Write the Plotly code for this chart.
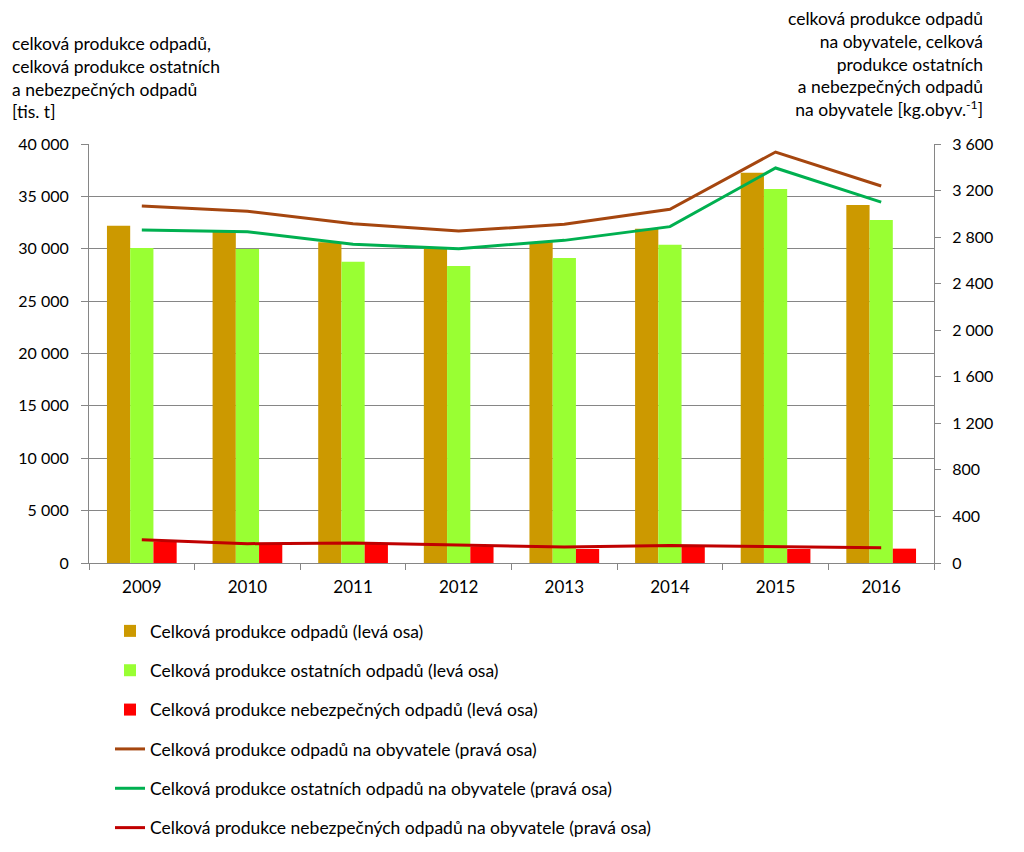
import plotly.graph_objects as go

years = ["2009", "2010", "2011", "2012", "2013", "2014", "2015", "2016"]

# left axis [tis. t]
total_waste = [32200, 31630, 30620, 30040, 30620, 31900, 37260, 34180]
other_waste = [30070, 29980, 28770, 28350, 29120, 30390, 35700, 32750]
hazardous_waste = [2060, 1810, 1830, 1590, 1340, 1590, 1340, 1370]

# right axis [kg/obyv.]
total_pc = [3067, 3022, 2915, 2852, 2910, 3039, 3531, 3239]
other_pc = [2861, 2847, 2738, 2701, 2772, 2890, 3394, 3101]
hazardous_pc = [200, 166, 172, 157, 137, 151, 143, 131]

names = [
    "Celková produkce odpadů (levá osa)",
    "Celková produkce ostatních odpadů (levá osa)",
    "Celková produkce nebezpečných odpadů (levá osa)",
    "Celková produkce odpadů na obyvatele (pravá osa)",
    "Celková produkce ostatních odpadů na obyvatele (pravá osa)",
    "Celková produkce nebezpečných odpadů na obyvatele (pravá osa)",
]

FONT = "Lato, Calibri, sans-serif"
GRID = "#868686"
OFF = 8  # page body margin offset
PLOT_TOP, PLOT_BOTTOM, PLOT_H, PLOT_W = 144, 563, 419, 845

fig = go.Figure()
bar_colors = ["#CC9900", "#99FF33", "#FF0000"]
for i, (vals, col) in enumerate(zip([total_waste, other_waste, hazardous_waste], bar_colors)):
    fig.add_trace(go.Bar(x=years, y=vals, name=names[i], marker=dict(color=col, line=dict(width=0)),
                         legendgroup=f"g{i}", yaxis="y"))

line_colors = ["#A5460F", "#00B050", "#C00000"]
for j, (vals, col) in enumerate(zip([total_pc, other_pc, hazardous_pc], line_colors)):
    fig.add_trace(go.Scatter(x=years, y=vals, name=names[3 + j], mode="lines",
                             line=dict(color=col, width=3), legendgroup=f"g{3 + j}", yaxis="y2"))

fig.update_layout(
    width=1024, height=852,
    paper_bgcolor="white", plot_bgcolor="white",
    margin=dict(l=89 - OFF, r=90 + OFF, t=PLOT_TOP - OFF, b=852 - (PLOT_BOTTOM - OFF), pad=0, autoexpand=False),
    font=dict(family=FONT, size=16, color="#000000"),
    separators=", ",
    barmode="group", bargap=0.34, bargroupgap=0,
    xaxis=dict(type="category", showgrid=False, showline=True, linecolor=GRID, linewidth=1,
               ticks="outside", tickson="boundaries", ticklen=6, tickcolor=GRID, automargin=False,
               ticklabelstandoff=9, tickfont=dict(size=17, family=FONT)),
    yaxis=dict(range=[0, 40000], dtick=5000, tickformat=",d", showgrid=True, gridcolor=GRID,
               gridwidth=1, showline=True, linecolor=GRID, linewidth=1, ticks="outside",
               ticklen=7, tickcolor=GRID, zeroline=False, automargin=False, ticklabelstandoff=9,
               tickfont=dict(size=16, family=FONT)),
    yaxis2=dict(range=[0, 3600], dtick=400, tickformat=",d", overlaying="y", side="right",
                showgrid=False, showline=True, linecolor=GRID, linewidth=1, ticks="outside",
                ticklen=6, tickcolor=GRID, zeroline=False, automargin=False, ticklabelstandoff=8,
                tickfont=dict(size=16, family=FONT)),
    legend=dict(orientation="v", x=(110 - OFF) / 1024, xref="container", xanchor="left",
                y=1 - (613 - OFF) / 852, yref="container", yanchor="top",
                traceorder="grouped", tracegroupgap=13.6, font=dict(size=17.5, family=FONT),
                itemwidth=30, bgcolor="rgba(0,0,0,0)"),
    showlegend=True,
)

fig.add_annotation(xref="paper", yref="paper", x=-79 / PLOT_W, y=(PLOT_BOTTOM - 31) / PLOT_H,
                   xanchor="left", yanchor="top",
                   align="left", showarrow=False, font=dict(size=17.5, family=FONT),
                   text="celková produkce odpadů,<br>celková produkce ostatních<br>a nebezpečných odpadů<br>[tis. t]")
fig.add_annotation(xref="paper", yref="paper", x=1 + 51 / PLOT_W, y=(PLOT_BOTTOM - 6) / PLOT_H,
                   xanchor="right", yanchor="top",
                   align="right", showarrow=False, font=dict(size=17.5, family=FONT),
                   text="celková produkce odpadů<br>na obyvatele, celková<br>produkce ostatních<br>a nebezpečných odpadů<br>na obyvatele [kg.obyv.<sup>-1</sup>]")

fig.write_html("out.html")
